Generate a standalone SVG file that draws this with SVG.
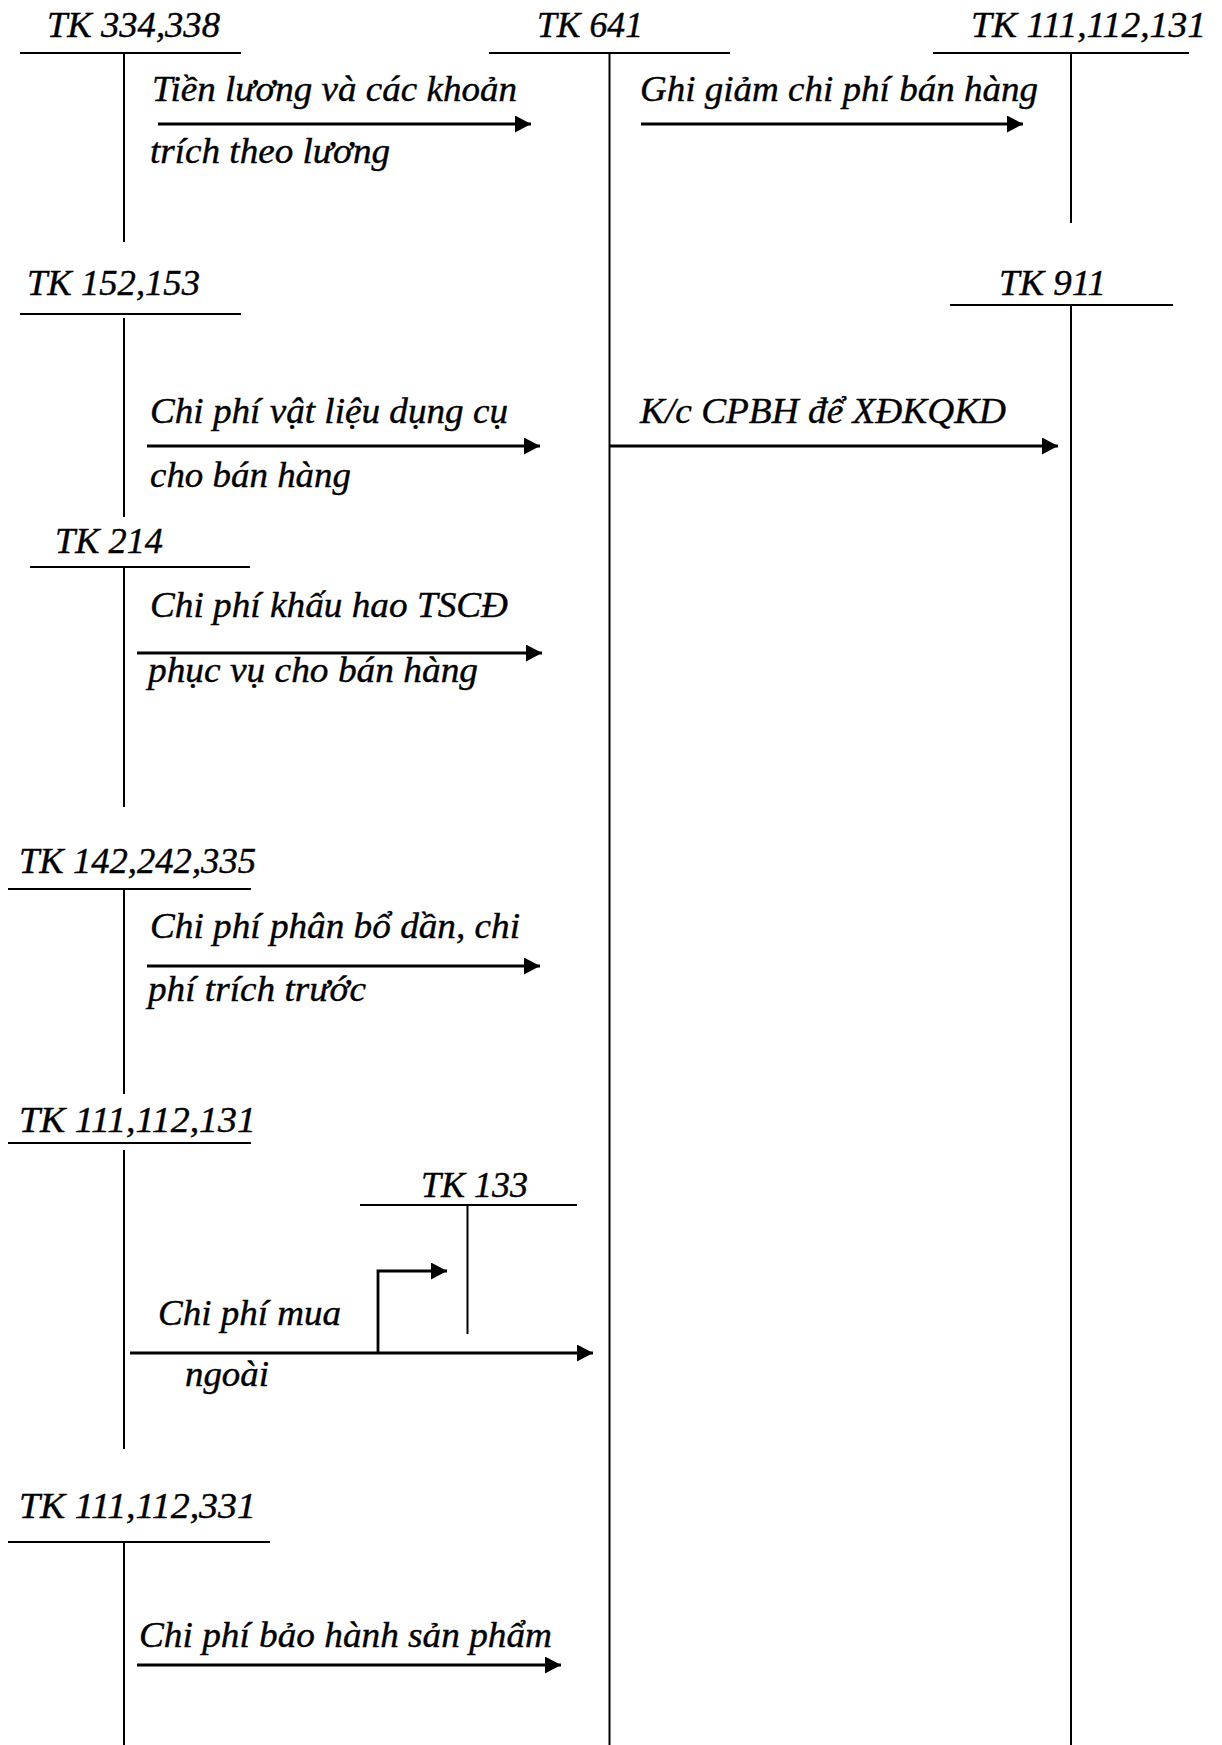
<svg xmlns="http://www.w3.org/2000/svg" width="1222" height="1745" viewBox="0 0 1222 1745">
<style>
  text { font-family: "Liberation Serif", "Times New Roman", serif; font-style: italic; font-size: 36px; fill: #000; stroke: #000; stroke-width: 0.4; }
  .t { stroke: #000; stroke-width: 2; fill: none; }
  .a { stroke: #000; stroke-width: 2.8; fill: none; }
</style>
<defs>
  <marker id="ah" markerUnits="userSpaceOnUse" markerWidth="18" markerHeight="18" refX="16" refY="8.5" orient="auto">
    <path d="M0,0 L16,8.5 L0,17 Z" fill="#000"/>
  </marker>
</defs>
<rect width="1222" height="1745" fill="#fff"/>

<g id="tk334">
  <text x="47" y="37" textLength="173" lengthAdjust="spacingAndGlyphs">TK 334,338</text>
  <line class="t" x1="20" y1="53" x2="241" y2="53"/>
  <line class="t" x1="124" y1="53" x2="124" y2="242"/>
</g>
<g id="tk641">
  <text x="537" y="37" textLength="106" lengthAdjust="spacingAndGlyphs">TK 641</text>
  <line class="t" x1="489" y1="53" x2="730" y2="53"/>
  <line class="t" x1="609.5" y1="53" x2="609.5" y2="1745"/>
</g>
<g id="tk111top">
  <text x="971" y="37" textLength="235" lengthAdjust="spacingAndGlyphs">TK 111,112,131</text>
  <line class="t" x1="933" y1="53" x2="1189" y2="53"/>
  <line class="t" x1="1071" y1="53" x2="1071" y2="223"/>
</g>
<g id="tk152">
  <text x="27" y="295" textLength="173" lengthAdjust="spacingAndGlyphs">TK 152,153</text>
  <line class="t" x1="20" y1="314" x2="241" y2="314"/>
  <line class="t" x1="124" y1="318" x2="124" y2="517"/>
</g>
<g id="tk911">
  <text x="999" y="295" textLength="107" lengthAdjust="spacingAndGlyphs">TK 911</text>
  <line class="t" x1="950" y1="305" x2="1173" y2="305"/>
  <line class="t" x1="1071" y1="305" x2="1071" y2="1745"/>
</g>
<g id="tk214">
  <text x="55" y="553" textLength="108" lengthAdjust="spacingAndGlyphs">TK 214</text>
  <line class="t" x1="30" y1="567" x2="250" y2="567"/>
  <line class="t" x1="124" y1="567" x2="124" y2="807"/>
</g>
<g id="tk142">
  <text x="19" y="873" textLength="237" lengthAdjust="spacingAndGlyphs">TK 142,242,335</text>
  <line class="t" x1="8" y1="889" x2="251" y2="889"/>
  <line class="t" x1="124" y1="889" x2="124" y2="1094"/>
</g>
<g id="tk111left">
  <text x="19" y="1132" textLength="237" lengthAdjust="spacingAndGlyphs">TK 111,112,131</text>
  <line class="t" x1="8" y1="1143" x2="251" y2="1143"/>
  <line class="t" x1="124" y1="1150" x2="124" y2="1449"/>
</g>
<g id="tk133">
  <text x="421" y="1197" textLength="107" lengthAdjust="spacingAndGlyphs">TK 133</text>
  <line class="t" x1="360" y1="1205" x2="577" y2="1205"/>
  <line class="t" x1="467.5" y1="1205" x2="467.5" y2="1334"/>
</g>
<g id="tk331">
  <text x="19" y="1518" textLength="237" lengthAdjust="spacingAndGlyphs">TK 111,112,331</text>
  <line class="t" x1="8" y1="1542" x2="270" y2="1542"/>
  <line class="t" x1="124" y1="1542" x2="124" y2="1745"/>
</g>

<g id="connectors">
  <line class="a" x1="158" y1="124" x2="531" y2="124" marker-end="url(#ah)"/>
  <line class="a" x1="641" y1="124" x2="1023" y2="124" marker-end="url(#ah)"/>
  <line class="a" x1="147" y1="446" x2="540" y2="446" marker-end="url(#ah)"/>
  <line class="a" x1="610" y1="446" x2="1058" y2="446" marker-end="url(#ah)"/>
  <line class="a" x1="137" y1="653" x2="542" y2="653" marker-end="url(#ah)"/>
  <line class="a" x1="147" y1="966" x2="540" y2="966" marker-end="url(#ah)"/>
  <line class="a" x1="130" y1="1353" x2="593" y2="1353" marker-end="url(#ah)"/>
  <path class="a" d="M378,1353 V1271 H447" marker-end="url(#ah)"/>
  <line class="a" x1="137" y1="1665" x2="561" y2="1665" marker-end="url(#ah)"/>
</g>

<g id="labels">
  <text x="152" y="101" textLength="365" lengthAdjust="spacingAndGlyphs">Tiền lương và các khoản</text>
  <text x="150" y="163" textLength="240" lengthAdjust="spacingAndGlyphs">trích theo lương</text>
  <text x="640" y="101" textLength="398" lengthAdjust="spacingAndGlyphs">Ghi giảm chi phí bán hàng</text>
  <text x="150" y="423" textLength="358" lengthAdjust="spacingAndGlyphs">Chi phí vật liệu dụng cụ</text>
  <text x="150" y="487" textLength="201" lengthAdjust="spacingAndGlyphs">cho bán hàng</text>
  <text x="640" y="423" textLength="366" lengthAdjust="spacingAndGlyphs">K/c CPBH để XĐKQKD</text>
  <text x="150" y="617" textLength="358" lengthAdjust="spacingAndGlyphs">Chi phí khấu hao TSCĐ</text>
  <text x="148" y="682" textLength="330" lengthAdjust="spacingAndGlyphs">phục vụ cho bán hàng</text>
  <text x="150" y="938" textLength="370" lengthAdjust="spacingAndGlyphs">Chi phí phân bổ dần, chi</text>
  <text x="148" y="1001" textLength="218" lengthAdjust="spacingAndGlyphs">phí trích trước</text>
  <text x="158" y="1325" textLength="183" lengthAdjust="spacingAndGlyphs">Chi phí mua</text>
  <text x="185" y="1386" textLength="84" lengthAdjust="spacingAndGlyphs">ngoài</text>
  <text x="139" y="1647" textLength="413" lengthAdjust="spacingAndGlyphs">Chi phí bảo hành sản phẩm</text>
</g>
</svg>
